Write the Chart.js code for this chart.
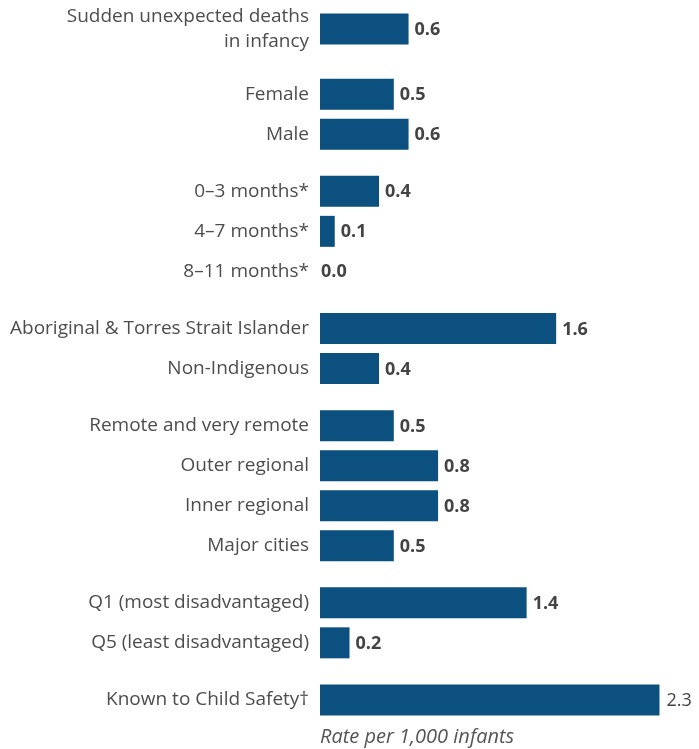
<!DOCTYPE html>
<html>
<head>
<meta charset="utf-8">
<script src="https://cdn.jsdelivr.net/npm/chart.js@4.4.1/dist/chart.umd.min.js"></script>
<style>
  html, body { margin: 0; padding: 0; background: #fff; }
  #wrap { width: 699px; height: 749px; position: relative; }
</style>
</head>
<body>
<div id="wrap"><canvas id="chart"></canvas></div>
<script>
// rows, top to bottom; groupIds mark which rows sit together
const categoryLabels = [
  ["Sudden unexpected deaths", "in infancy"],
  "Female", "Male",
  "0–3 months*", "4–7 months*", "8–11 months*",
  "Aboriginal & Torres Strait Islander", "Non-Indigenous",
  "Remote and very remote", "Outer regional", "Inner regional", "Major cities",
  "Q1 (most disadvantaged)", "Q5 (least disadvantaged)",
  "Known to Child Safety†"
];
const groupIds = [0, 1, 1, 2, 2, 2, 3, 3, 4, 4, 4, 4, 5, 5, 6];
const rates = [0.6, 0.5, 0.6, 0.4, 0.1, 0.0, 1.6, 0.4, 0.5, 0.8, 0.8, 0.5, 1.4, 0.2, 2.3];
const axisTitle = "Rate per 1,000 infants";

const FONT = "'Open Sans', 'DejaVu Sans', sans-serif";
const BAR = "#0b507f";
const TEXT = "#4d4d4d";

// row positions: one unit per row, extra space between groups
const GROUP_GAP = 0.43;
const positions = [];
let pos = 0;
categoryLabels.forEach((lab, i) => {
  if (i > 0) {
    pos += 1;
    if (groupIds[i] !== groupIds[i - 1]) {
      pos += GROUP_GAP;
      if (Array.isArray(categoryLabels[i - 1])) pos += 0.2;
    }
  }
  positions.push(pos);
});

// value after each bar; the one that runs to the edge is set lighter, like the original
const valueLabels = {
  id: "valueLabels",
  afterDatasetsDraw(chart) {
    const ctx = chart.ctx;
    const meta = chart.getDatasetMeta(0);
    ctx.save();
    ctx.fillStyle = "#444";
    ctx.textBaseline = "middle";
    ctx.textAlign = "left";
    meta.data.forEach((bar, i) => {
      const v = rates[i];
      const nearEdge = bar.x > chart.chartArea.right - 40;
      ctx.font = (nearEdge ? "" : "bold ") + "18px " + FONT;
      const x = nearEdge ? bar.x + 7 : bar.x + (v > 0 ? 6 : 1);
      ctx.fillText(v.toFixed(1), x, bar.y + 1);
    });
    ctx.restore();
  }
};

new Chart(document.getElementById("chart"), {
  type: "bar",
  data: {
    datasets: [{
      data: rates.map((v, i) => ({ x: v, y: positions[i] })),
      backgroundColor: BAR,
      borderWidth: 0,
      inflateAmount: 0,
      barThickness: 31
    }]
  },
  options: {
    indexAxis: "y",
    responsive: true,
    maintainAspectRatio: false,
    animation: false,
    layout: { padding: { top: 7, right: 10, bottom: 0, left: 0 } },
    plugins: {
      legend: { display: false },
      tooltip: { enabled: false }
    },
    scales: {
      x: {
        type: "linear",
        min: 0,
        max: 2.5,
        grid: { display: false, drawTicks: false },
        border: { display: false },
        ticks: { display: false },
        title: {
          display: true,
          text: axisTitle,
          align: "start",
          color: "#555",
          font: { family: FONT, size: 20, style: "italic" },
          padding: { top: 0, bottom: 0 }
        },
        afterFit(scale) {
          scale.height = 27;
          scale.paddingLeft = 0;
          scale.paddingRight = 0;
        }
      },
      y: {
        type: "linear",
        reverse: true,
        offset: false,
        bounds: "data",
        min: positions[0] - 0.55,
        max: positions[positions.length - 1] + 0.55,
        grid: { display: false, drawTicks: false, offset: false },
        border: { display: false },
        afterBuildTicks(scale) {
          scale.ticks = positions.map(v => ({ value: v }));
        },
        afterFit(scale) {
          scale.width = 320;
          scale.paddingTop = 0;
          scale.paddingBottom = 0;
        },
        ticks: {
          autoSkip: false,
          padding: 11,
          color: TEXT,
          font: { family: FONT, size: 19, lineHeight: 1.35 },
          callback: (value, index) => categoryLabels[index]
        }
      }
    }
  },
  plugins: [valueLabels]
});
</script>
</body>
</html>
